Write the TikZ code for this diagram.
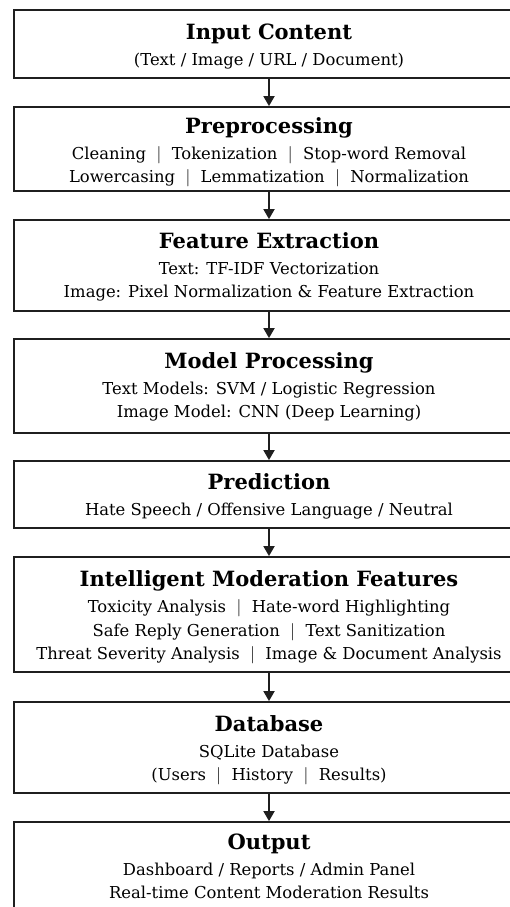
\documentclass[tikz,border=0pt]{standalone}
\usepackage{fontspec}
\setmainfont{DejaVu Serif}
\usetikzlibrary{arrows.meta}
\begin{document}
\begin{tikzpicture}[x=1pt,y=-1pt,
  box/.style={draw=black!88,line width=1.8pt,minimum width=510pt,inner sep=0pt},
  txt/.style={inner sep=0pt,align=center,font=\fontsize{16.4}{23.5}\selectfont},
  arr/.style={draw=black!88,line width=1.8pt,-{Triangle[length=10pt,width=11pt]}}]
\useasboundingbox (0,0) rectangle (510,907);
\clip (0,0) rectangle (510,907);
\fill[white] (0,0) rectangle (510,907);
\newcommand{\ttl}[1]{{\fontsize{21}{24}\selectfont\bfseries #1}\\[2.5pt]}
\newcommand{\sep}{\ \ $|$\ \ }
% boxes
\node[box,minimum height=68pt] (b1) at (269,44) {};
\node[box,minimum height=84pt] (b2) at (269,149) {};
\node[box,minimum height=91pt] (b3) at (269,265.5) {};
\node[box,minimum height=94pt] (b4) at (269,386) {};
\node[box,minimum height=67pt] (b5) at (269,494.5) {};
\node[box,minimum height=115pt] (b6) at (269,614.5) {};
\node[box,minimum height=91pt] (b7) at (269,747.5) {};
\node[box,minimum height=89pt] (b8) at (269,866.5) {};
% texts
\node[txt] (t1) at ([yshift=-2.5pt]b1.center) {\ttl{Input Content}(Text / Image / URL / Document)};
\node[txt] (t2) at ([yshift=-3pt]b2.center) {\ttl{Preprocessing}Cleaning\sep Tokenization\sep Stop-word Removal\\Lowercasing\sep Lemmatization\sep Normalization};
\node[txt] (t3) at ([yshift=-1.5pt]b3.center) {\ttl{Feature Extraction}Text: TF-IDF Vectorization\\Image: Pixel Normalization \& Feature Extraction};
\node[txt] (t4) at ([yshift=-1pt]b4.center) {\ttl{Model Processing}Text Models: SVM / Logistic Regression\\Image Model: CNN (Deep Learning)};
\node[txt] (t5) at ([yshift=-2pt]b5.center) {\ttl{Prediction}Hate Speech / Offensive Language / Neutral};
\node[txt] (t6) at ([yshift=-3pt]b6.center) {\ttl{Intelligent Moderation Features}Toxicity Analysis\sep Hate-word Highlighting\\Safe Reply Generation\sep Text Sanitization\\Threat Severity Analysis\sep Image \& Document Analysis};
\node[txt] (t7) at ([yshift=-2.5pt]b7.center) {\ttl{Database}SQLite Database\\(Users\sep History\sep Results)};
\node[txt] (t8) at ([yshift=0pt]b8.center) {\ttl{Output}Dashboard / Reports / Admin Panel\\Real-time Content Moderation Results};
% arrows
\foreach \a/\b in {b1/b2,b2/b3,b3/b4,b4/b5,b5/b6,b6/b7,b7/b8}
  \draw[arr] (\a.south) -- (\b.north);
\end{tikzpicture}
\end{document}
